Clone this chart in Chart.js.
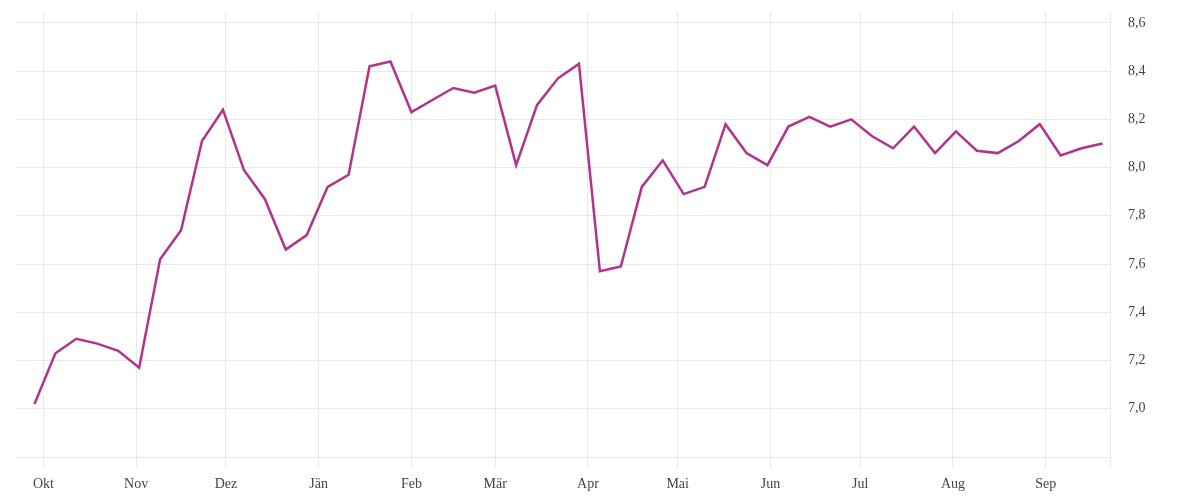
<!DOCTYPE html>
<html>
<head>
<meta charset="utf-8">
<script src="https://cdn.jsdelivr.net/npm/chart.js@4"></script>
<style>
  body { margin: 0; background: #fff; }
  canvas { display: block; }
</style>
</head>
<body>
<canvas id="lineChart" width="1200" height="500"></canvas>
<script>
// weekly observations
const weekDates = [
    '2022-09-28', '2022-10-05', '2022-10-12', '2022-10-19', '2022-10-26',
    '2022-11-02', '2022-11-09', '2022-11-16', '2022-11-23', '2022-11-30',
    '2022-12-07', '2022-12-14', '2022-12-21', '2022-12-28',
    '2023-01-04', '2023-01-11', '2023-01-18', '2023-01-25',
    '2023-02-01', '2023-02-08', '2023-02-15', '2023-02-22',
    '2023-03-01', '2023-03-08', '2023-03-15', '2023-03-22', '2023-03-29',
    '2023-04-05', '2023-04-12', '2023-04-19', '2023-04-26',
    '2023-05-03', '2023-05-10', '2023-05-17', '2023-05-24', '2023-05-31',
    '2023-06-07', '2023-06-14', '2023-06-21', '2023-06-28',
    '2023-07-05', '2023-07-12', '2023-07-19', '2023-07-26',
    '2023-08-02', '2023-08-09', '2023-08-16', '2023-08-23', '2023-08-30',
    '2023-09-06', '2023-09-13', '2023-09-20'
];

const values = [
    7.02, 7.23, 7.29, 7.27, 7.24, 7.17, 7.62, 7.74, 8.11, 8.24,
    7.99, 7.87, 7.66, 7.72, 7.92, 7.97, 8.42, 8.44, 8.23, 8.28,
    8.33, 8.31, 8.34, 8.01, 8.26, 8.37, 8.43, 7.57, 7.59, 7.92,
    8.03, 7.89, 7.92, 8.18, 8.06, 8.01, 8.17, 8.21, 8.17, 8.20,
    8.13, 8.08, 8.17, 8.06, 8.15, 8.07, 8.06, 8.11, 8.18, 8.05,
    8.08, 8.10
];

const monthStarts = [
    '2022-10-01', '2022-11-01', '2022-12-01', '2023-01-01', '2023-02-01', '2023-03-01',
    '2023-04-01', '2023-05-01', '2023-06-01', '2023-07-01', '2023-08-01', '2023-09-01'
];
const monthLabels = ['Okt', 'Nov', 'Dez', 'Jän', 'Feb', 'Mär', 'Apr', 'Mai', 'Jun', 'Jul', 'Aug', 'Sep'];

const yTicks = [6.8, 7.0, 7.2, 7.4, 7.6, 7.8, 8.0, 8.2, 8.4, 8.6];

// days since 1 Oct, used as linear x position
const origin = Date.UTC(2022, 9, 1);
function dayOf(s) {
    const p = s.split('-').map(Number);
    return (Date.UTC(p[0], p[1] - 1, p[2]) - origin) / 86400000;
}

const xMin = -9.5;
const xMax = 356.5;
const gridColor = '#e9e9e9';

Chart.defaults.font.family = '"Liberation Serif", serif';
Chart.defaults.font.size = 14;
Chart.defaults.color = '#444';

const ctx = document.getElementById('lineChart').getContext('2d');
const chart = new Chart(ctx, {
    type: 'line',
    data: {
        datasets: [{
            data: weekDates.map((d, i) => ({ x: dayOf(d), y: values[i] })),
            borderColor: '#b3328b',
            borderWidth: 2.5,
            pointRadius: 0,
            tension: 0,
            fill: false
        }]
    },
    options: {
        responsive: false,
        animation: false,
        layout: { padding: { left: 15, top: 12, right: 0, bottom: 0 } },
        plugins: {
            legend: { display: false },
            tooltip: { enabled: false }
        },
        scales: {
            x: {
                type: 'linear',
                min: xMin,
                max: xMax,
                afterBuildTicks: function (axis) {
                    axis.ticks = monthStarts.map(d => ({ value: dayOf(d) })).concat([{ value: xMax }]);
                },
                afterFit: function (axis) { axis.height = 43; },
                ticks: {
                    autoSkip: false,
                    maxRotation: 0,
                    padding: 9,
                    callback: function (value, index) {
                        return monthLabels[index] || '';
                    }
                },
                grid: { color: gridColor, tickLength: 10, drawTicks: true },
                border: { display: false }
            },
            y: {
                position: 'right',
                min: 6.8,
                max: 8.645,
                afterBuildTicks: function (axis) {
                    axis.ticks = yTicks.map(v => ({ value: v }));
                },
                afterFit: function (axis) {
                    axis.width = 90;
                    axis.paddingTop = 0;
                    axis.paddingBottom = 0;
                },
                ticks: {
                    padding: 18,
                    callback: function (value) {
                        if (value < 6.9) return '';
                        return value.toFixed(1).replace('.', ',');
                    }
                },
                grid: { color: gridColor, drawTicks: false },
                border: { display: false }
            }
        }
    }
});
</script>
</body>
</html>
